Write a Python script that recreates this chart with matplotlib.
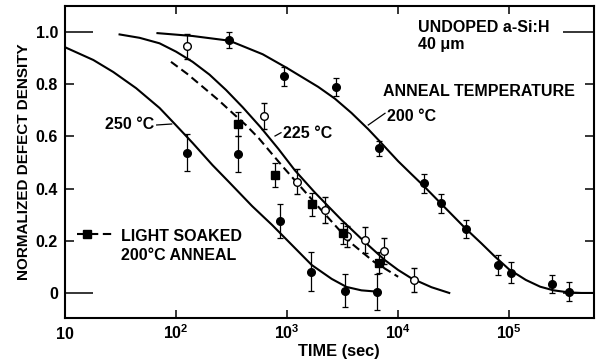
import matplotlib
matplotlib.use("Agg")
import matplotlib.pyplot as plt

plt.rcParams["font.family"] = ["Liberation Sans", "DejaVu Sans"]
plt.rcParams["font.weight"] = "bold"
plt.rcParams["axes.labelweight"] = "bold"
plt.rcParams["font.size"] = 11.5
plt.rcParams["mathtext.fontset"] = "custom"
plt.rcParams["mathtext.default"] = "bf"
plt.rcParams["mathtext.bf"] = "Liberation Sans:bold"
plt.rcParams["mathtext.rm"] = "Liberation Sans:bold"

# --- measured defect densities (normalized), with error bars ---
t_200 = [302, 935, 2750, 6710, 17100, 24200, 40400, 79200, 103000, 244000, 344000]
n_200 = [0.969, 0.83, 0.79, 0.554, 0.42, 0.344, 0.245, 0.107, 0.078, 0.034, 0.005]
e_200 = [0.03, 0.035, 0.035, 0.03, 0.037, 0.037, 0.035, 0.038, 0.04, 0.035, 0.037]

t_225 = [125, 616, 1240, 2190, 3480, 4990, 7530, 13960]
n_225 = [0.946, 0.679, 0.426, 0.318, 0.218, 0.203, 0.162, 0.05]
e_225 = [0.048, 0.05, 0.048, 0.048, 0.04, 0.05, 0.05, 0.045]

t_250 = [125, 361, 867, 1630, 3350, 6440]
n_250 = [0.538, 0.533, 0.276, 0.082, 0.009, 0.003]
e_250 = [0.07, 0.07, 0.066, 0.075, 0.063, 0.07]

t_ls = [361, 784, 1690, 3200, 6710]
n_ls = [0.647, 0.452, 0.34, 0.229, 0.116]
e_ls = [0.045, 0.046, 0.044, 0.04, 0.04]

# --- fitted decay curves ---
fit_t_200 = [68, 141, 302, 603, 1000, 1905, 2690, 3800, 5370, 6760, 10000, 13200,
             17000, 24000, 39800, 56200, 74100, 100000, 141000, 190000, 251000,
             347000, 447000, 590000]
fit_n_200 = [0.996, 0.985, 0.967, 0.915, 0.862, 0.79, 0.745, 0.69, 0.628, 0.583,
             0.505, 0.455, 0.41, 0.345, 0.25, 0.19, 0.14, 0.09, 0.05, 0.024, 0.01,
             0.002, 0.0, 0.0]

fit_t_225 = [31, 47, 71, 100, 141, 200, 282, 398, 575, 832, 1175, 1778, 3090, 5012,
             7586, 10000, 13183, 19953, 28840]
fit_n_225 = [0.991, 0.978, 0.957, 0.925, 0.886, 0.837, 0.778, 0.712, 0.636, 0.553,
             0.47, 0.385, 0.28, 0.195, 0.126, 0.088, 0.056, 0.022, 0.0]

fit_t_250 = [10, 18, 27.2, 43.7, 71.1, 97.3, 141, 213, 300, 484, 731, 1104, 1667,
             2518, 3428, 4667, 6486]
fit_n_250 = [0.942, 0.893, 0.847, 0.785, 0.709, 0.648, 0.575, 0.49, 0.425, 0.333,
             0.261, 0.184, 0.107, 0.054, 0.023, 0.01, 0.005]

fit_t_ls = [90, 126, 174, 240, 324, 427, 556, 724, 955, 1349, 1905, 2692, 3802,
            6026, 10000]
fit_n_ls = [0.886, 0.84, 0.79, 0.74, 0.689, 0.643, 0.593, 0.535, 0.475, 0.403,
            0.331, 0.26, 0.19, 0.12, 0.062]

x_ticks = [10, 1e2, 1e3, 1e4, 1e5]
x_labels = ["10", "$10^{2}$", "$10^{3}$", "$10^{4}$", "$10^{5}$"]
y_ticks = [0, 0.2, 0.4, 0.6, 0.8, 1.0]
y_labels = ["0", "0.2", "0.4", "0.6", "0.8", "1.0"]

fig = plt.figure(figsize=(5.96, 3.62), dpi=100)
ax = fig.add_axes([65 / 596, 44 / 362, 529 / 596, 312 / 362])
ax.set_xscale("log")
ax.set_xlim(10, 5.8e5)
ax.set_ylim(-0.096, 1.10)

lw = 1.5
ax.plot(fit_t_200, fit_n_200, color="black", lw=lw, zorder=2)
ax.plot(fit_t_225, fit_n_225, color="black", lw=lw, zorder=2)
ax.plot(fit_t_250, fit_n_250, color="black", lw=lw, zorder=2)
ax.plot(fit_t_ls, fit_n_ls, color="black", lw=lw, dashes=(4, 2.2), zorder=2)

eb = dict(color="black", capsize=2.5, elinewidth=0.9, capthick=0.9, ls="none", zorder=3)
ax.errorbar(t_200, n_200, yerr=e_200, marker="o", ms=5.5, **eb)
ax.errorbar(t_250, n_250, yerr=e_250, marker="o", ms=5.5, **eb)
ax.errorbar(t_225, n_225, yerr=e_225, marker="o", ms=5.5, mfc="white", mec="black",
            mew=1.0, **eb)
ax.errorbar(t_ls, n_ls, yerr=e_ls, marker="s", ms=5.5, **eb)

# curve labels and their leader lines
tr = ax.transAxes
ax.text(0.0756, 0.6186, "250 °C", transform=tr, va="center", ha="left")
ax.plot([0.1733, 0.2017], [0.6186, 0.6218], transform=tr, color="black", lw=0.9)
ax.text(0.4115, 0.592, "225 °C", transform=tr, va="center", ha="left")
ax.plot([0.397, 0.4083], [0.5833, 0.5939], transform=tr, color="black", lw=0.9)
ax.text(0.6081, 0.6474, "200 °C", transform=tr, va="center", ha="left")
ax.plot([0.5733, 0.6049], [0.6186, 0.6561], transform=tr, color="black", lw=0.9)
ax.text(0.6006, 0.7253, "ANNEAL TEMPERATURE", transform=tr, va="center", ha="left")
ax.text(0.6673, 0.9295, "UNDOPED a-Si:H", transform=tr, va="center", ha="left")
ax.text(0.6673, 0.875, "40 μm", transform=tr, va="center", ha="left")

# key for the light soaked series
ax.plot([0.022, 0.0945], [0.268, 0.268], transform=tr, color="black", lw=lw,
        dashes=(4, 2.2))
ax.plot([0.042], [0.268], transform=tr, marker="s", ms=5.5, color="black")
ax.text(0.1059, 0.2628, "LIGHT SOAKED", transform=tr, va="center", ha="left")
ax.text(0.1059, 0.2019, "200°C ANNEAL", transform=tr, va="center", ha="left")

ax.set_xticks(x_ticks)
ax.set_xticklabels(x_labels)
ax.minorticks_off()
ax.set_yticks(y_ticks)
ax.set_yticklabels(y_labels)
ax.tick_params(axis="both", which="major", direction="in", top=True, right=True,
               width=1.1, labelsize=11.5)
ax.tick_params(axis="x", length=6, pad=15)
ax.tick_params(axis="y", length=6.5, pad=5)
for lab in ax.get_xticklabels():
    lab.set_va("baseline")

for side in ax.spines.values():
    side.set_linewidth(1.5)

ax.set_xlabel("TIME (sec)", fontsize=11.8, fontweight="bold", va="center")
ax.xaxis.set_label_coords(0.518, -0.108)
ax.set_ylabel("NORMALIZED DEFECT DENSITY", fontsize=11, fontweight="bold", va="center")
ax.yaxis.set_label_coords(-0.0766, 0.5)

# the 0 and 1.0 reference ticks are drawn longer
for tk in ax.yaxis.get_major_ticks():
    if tk.get_loc() in (0, 1.0):
        tk.tick1line.set_markersize(20)
        tk.tick2line.set_markersize(22)

fig.savefig("out.png", dpi=100)
plt.close(fig)
